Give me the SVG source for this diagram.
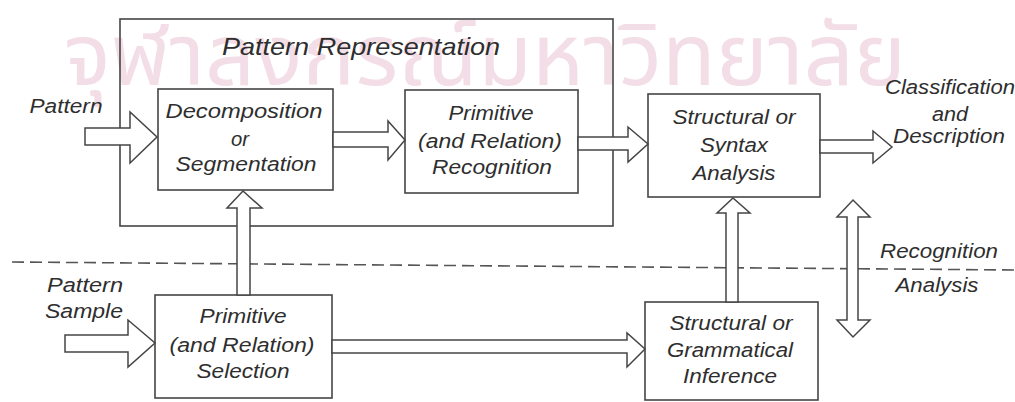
<svg xmlns="http://www.w3.org/2000/svg" width="1015" height="402" viewBox="0 0 1015 402">
<style>
.bg{fill:#ffffff}
.box{fill:none;stroke:#454545;stroke-width:1.6}
.arr{fill:#ffffff;stroke:#454545;stroke-width:1.5;stroke-linejoin:miter}
.t{font-family:"Liberation Sans",Arial,sans-serif;font-style:italic;font-size:20px;fill:#2e2e2e;text-anchor:middle}
.title{font-size:24px}
.dash{fill:none;stroke:#555555;stroke-width:1.6;stroke-dasharray:12 6}
.wm{font-family:"Noto Sans Thai","DejaVu Sans",sans-serif;font-size:86px;fill:#f3dde6}
</style>
<rect class="bg" x="0" y="0" width="1015" height="402"/>
<text class="wm" x="64" y="85" textLength="842" lengthAdjust="spacingAndGlyphs">จุฬาลงกรณ์มหาวิทยาลัย</text>

<g id="pattern-representation">
  <rect class="box" x="120" y="19" width="493" height="207"/>
  <text class="t title" x="361" y="55" textLength="278" lengthAdjust="spacingAndGlyphs">Pattern Representation</text>
</g>

<g id="pattern-label">
  <text class="t" x="66" y="113" textLength="73" lengthAdjust="spacingAndGlyphs">Pattern</text>
</g>

<g id="decomposition">
  <rect class="box" x="158" y="89" width="175" height="101"/>
  <text class="t" x="244" y="118" textLength="157" lengthAdjust="spacingAndGlyphs">Decomposition</text>
  <text class="t" x="240" y="146" textLength="18" lengthAdjust="spacingAndGlyphs">or</text>
  <text class="t" x="246" y="171" textLength="141" lengthAdjust="spacingAndGlyphs">Segmentation</text>
</g>

<g id="primitive-recognition">
  <rect class="box" x="405" y="90" width="173" height="103"/>
  <text class="t" x="491" y="120" textLength="85" lengthAdjust="spacingAndGlyphs">Primitive</text>
  <text class="t" x="490" y="148" textLength="144" lengthAdjust="spacingAndGlyphs">(and Relation)</text>
  <text class="t" x="492" y="174" textLength="120" lengthAdjust="spacingAndGlyphs">Recognition</text>
</g>

<g id="syntax-analysis">
  <rect class="box" x="648" y="94" width="172" height="103"/>
  <text class="t" x="734" y="124" textLength="123" lengthAdjust="spacingAndGlyphs">Structural or</text>
  <text class="t" x="734" y="152" textLength="68" lengthAdjust="spacingAndGlyphs">Syntax</text>
  <text class="t" x="734" y="180" textLength="83" lengthAdjust="spacingAndGlyphs">Analysis</text>
</g>

<g id="classification-label">
  <text class="t" x="950" y="94" textLength="130" lengthAdjust="spacingAndGlyphs">Classification</text>
  <text class="t" x="950" y="121" textLength="36" lengthAdjust="spacingAndGlyphs">and</text>
  <text class="t" x="949" y="143" textLength="112" lengthAdjust="spacingAndGlyphs">Description</text>
</g>

<g id="pattern-sample-label">
  <text class="t" x="85" y="292" textLength="76" lengthAdjust="spacingAndGlyphs">Pattern</text>
  <text class="t" x="84" y="318" textLength="78" lengthAdjust="spacingAndGlyphs">Sample</text>
</g>

<g id="primitive-selection">
  <rect class="box" x="155" y="295" width="177" height="103"/>
  <text class="t" x="243" y="323" textLength="87" lengthAdjust="spacingAndGlyphs">Primitive</text>
  <text class="t" x="242" y="352" textLength="145" lengthAdjust="spacingAndGlyphs">(and Relation)</text>
  <text class="t" x="243" y="378" textLength="93" lengthAdjust="spacingAndGlyphs">Selection</text>
</g>

<g id="grammatical-inference">
  <rect class="box" x="645" y="302" width="173" height="98"/>
  <text class="t" x="731" y="330" textLength="123" lengthAdjust="spacingAndGlyphs">Structural or</text>
  <text class="t" x="730" y="357" textLength="126" lengthAdjust="spacingAndGlyphs">Grammatical</text>
  <text class="t" x="730" y="383" textLength="94" lengthAdjust="spacingAndGlyphs">Inference</text>
</g>

<g id="mode-labels">
  <text class="t" x="939" y="258" textLength="118" lengthAdjust="spacingAndGlyphs">Recognition</text>
  <text class="t" x="937" y="292" textLength="83" lengthAdjust="spacingAndGlyphs">Analysis</text>
</g>

<g id="connectors">
  <line class="dash" x1="12" y1="262" x2="1015" y2="270"/>
  <!-- Pattern input -->
  <polygon class="arr" points="85,128 130,128 130,112 157,137 130,163 130,145 85,145"/>
  <!-- Decomposition -> Primitive recognition -->
  <polygon class="arr" points="333,132 388,132 388,121 405,140 388,160 388,147 333,147"/>
  <!-- Primitive recognition -> Structural analysis -->
  <polygon class="arr" points="578,137 628,137 628,127 648,144 628,162 628,150 578,150"/>
  <!-- Structural analysis -> output -->
  <polygon class="arr" points="820,140 873,140 873,131 892,147 873,163 873,153 820,153"/>
  <!-- Pattern sample input -->
  <polygon class="arr" points="65,335 128,335 128,320 155,343 128,367 128,352 65,352"/>
  <!-- Selection -> Decomposition (up) -->
  <polygon class="arr" points="237,295 237,208 227,208 243,191 262,208 250,208 250,295"/>
  <!-- Selection -> Inference -->
  <polygon class="arr" points="332,340 627,340 627,333 645,349 627,367 627,353 332,353"/>
  <!-- Inference -> Syntax analysis (up) -->
  <polygon class="arr" points="726,302 726,213 717,213 733,198 750,213 738,213 738,302"/>
  <!-- Recognition/Analysis double arrow -->
  <polygon class="arr" points="847,217 837,217 853,200 870,217 858,217 858,320 870,320 853,337 837,320 847,320"/>
</g>
</svg>
